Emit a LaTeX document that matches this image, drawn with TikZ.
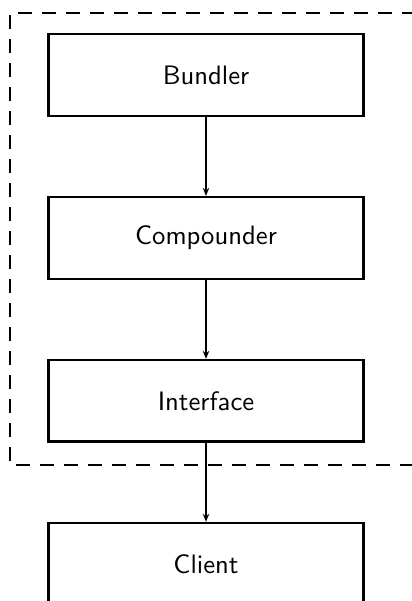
\documentclass[tikz,border=0pt]{standalone}
\usepackage{tikz}
\usetikzlibrary{arrows.meta, positioning}

\begin{document}
\begin{tikzpicture}[x=0.375pt, y=-0.375pt, >={Stealth[length=3pt,width=2.4pt]}, node distance=29.6pt,
        block/.style={draw, line width=0.9pt, minimum width=118pt, minimum height=30.6pt, font=\sffamily}]
        \clip (0,0) rectangle (412,601);
        \useasboundingbox (0,0) rectangle (412,601);
        \node[block] (B) at (206,75) {Bundler};
        \node[block, below=of B] (C) {Compounder};
        \node[block, below=of C] (I) {Interface};
        \node[block, below=of I] (K) {Client};
        \draw[line width=1.1pt, dash pattern=on 5.2pt off 3.8pt] (440,13) -| (10,465) -- (440,465);
        \path[->, line width=0.9pt]
            (B) edge (C)
            (C) edge (I)
            (I) edge (K);
    \end{tikzpicture}
\end{document}
